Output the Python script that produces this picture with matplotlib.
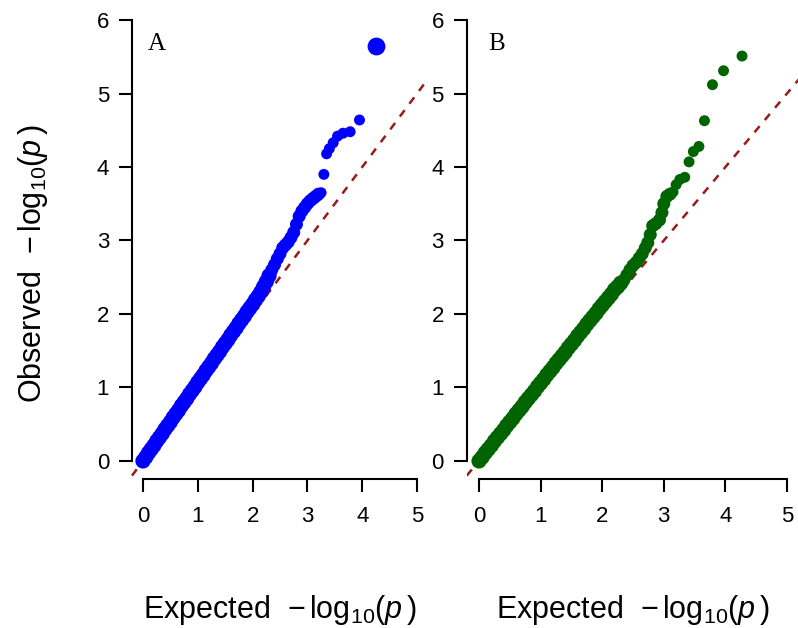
import matplotlib
matplotlib.use('Agg')
import matplotlib.pyplot as plt

plt.rcParams['font.family'] = ['Liberation Sans', 'DejaVu Sans']
plt.rcParams['mathtext.fontset'] = 'custom'
plt.rcParams['mathtext.rm'] = 'Liberation Sans'
plt.rcParams['mathtext.it'] = 'Liberation Sans:italic'

# ---- panel A (blue) : expected vs observed -log10(p)
expA = [0.00, 0.05, 0.10, 0.15, 0.20, 0.25, 0.30, 0.35, 0.40, 0.45,
        0.50, 0.55, 0.60, 0.65, 0.70, 0.75, 0.80, 0.85, 0.90, 0.95,
        1.00, 1.05, 1.10, 1.15, 1.20, 1.25, 1.30, 1.35, 1.40, 1.45,
        1.50, 1.55, 1.60, 1.65, 1.70, 1.75, 1.80, 1.85, 1.90, 1.95,
        2.00, 2.05, 2.10, 2.15, 2.20, 2.25, 2.30, 2.35, 2.40, 2.45,
        2.50, 2.55, 2.60, 2.65, 2.70, 2.75, 2.80, 2.85, 2.90, 2.95,
        3.00, 3.05, 3.10, 3.15, 3.20, 3.25, 3.30, 3.35, 3.40, 3.47,
        3.55, 3.65, 3.78, 3.95]
obsA = [0.00, 0.05, 0.11, 0.16, 0.21, 0.27, 0.32, 0.37, 0.43, 0.48,
        0.53, 0.59, 0.64, 0.69, 0.75, 0.80, 0.85, 0.91, 0.96, 1.01,
        1.07, 1.12, 1.17, 1.23, 1.28, 1.33, 1.39, 1.44, 1.49, 1.55,
        1.60, 1.65, 1.71, 1.76, 1.81, 1.87, 1.92, 1.97, 2.03, 2.08,
        2.13, 2.19, 2.24, 2.30, 2.37, 2.44, 2.52, 2.60, 2.67, 2.75,
        2.82, 2.90, 2.94, 2.98, 3.04, 3.11, 3.22, 3.33, 3.40, 3.45,
        3.50, 3.54, 3.57, 3.60, 3.63, 3.65, 3.90, 4.18, 4.25, 4.33,
        4.42, 4.46, 4.48, 4.64]
topA_exp = [4.25]
topA_obs = [5.65]

# ---- panel B (green)
expB = [0.00, 0.05, 0.10, 0.15, 0.20, 0.25, 0.30, 0.35, 0.40, 0.45,
        0.50, 0.55, 0.60, 0.65, 0.70, 0.75, 0.80, 0.85, 0.90, 0.95,
        1.00, 1.05, 1.10, 1.15, 1.20, 1.25, 1.30, 1.35, 1.40, 1.45,
        1.50, 1.55, 1.60, 1.65, 1.70, 1.75, 1.80, 1.85, 1.90, 1.95,
        2.00, 2.05, 2.10, 2.15, 2.20, 2.25, 2.30, 2.35, 2.40, 2.45,
        2.50, 2.55, 2.60, 2.65, 2.70, 2.74, 2.78, 2.82, 2.87, 2.93,
        2.97, 3.00, 3.05, 3.10, 3.15, 3.20, 3.26, 3.34, 3.41, 3.48,
        3.57, 3.66, 3.79, 3.97, 4.27]
obsB = [0.00, 0.05, 0.11, 0.16, 0.21, 0.27, 0.32, 0.37, 0.42, 0.48,
        0.53, 0.58, 0.64, 0.69, 0.74, 0.80, 0.85, 0.90, 0.95, 1.01,
        1.06, 1.11, 1.17, 1.22, 1.27, 1.33, 1.38, 1.43, 1.48, 1.54,
        1.59, 1.64, 1.70, 1.75, 1.80, 1.86, 1.91, 1.96, 2.01, 2.07,
        2.12, 2.17, 2.22, 2.27, 2.33, 2.37, 2.42, 2.46, 2.53, 2.60,
        2.66, 2.70, 2.76, 2.82, 2.90, 2.97, 3.08, 3.20, 3.23, 3.28,
        3.38, 3.50, 3.60, 3.63, 3.66, 3.76, 3.83, 3.86, 4.07, 4.21,
        4.28, 4.63, 5.12, 5.31, 5.51]

xticks = [0, 1, 2, 3, 4, 5]
yticks = [0, 1, 2, 3, 4, 5, 6]

W, H = 798, 628
fig = plt.figure(figsize=(W / 100, H / 100), dpi=100)

# axes boxes in pixels: left, right, top, bottom
boxA = (132, 428, 2.4, 478.6)
boxB = (466.7, 799.3, 2.4, 478.6)


def make_ax(box):
    l, r, t, b = box
    ax = fig.add_axes([l / W, 1 - b / H, (r - l) / W, (b - t) / H])
    ax.set_xlim(-0.2, 5.2)
    ax.set_ylim(-0.24, 6.24)
    ax.spines['top'].set_visible(False)
    ax.spines['right'].set_visible(False)
    ax.spines['left'].set_bounds(0, 6)
    ax.spines['bottom'].set_bounds(0, 5)
    for s in ('left', 'bottom'):
        ax.spines[s].set_linewidth(1.5)
    ax.set_xticks(xticks)
    ax.set_yticks(yticks)
    ax.tick_params(axis='both', direction='out', length=9.5, width=1.5,
                   labelsize=16)
    ax.tick_params(axis='y', pad=7)
    ax.tick_params(axis='x', pad=10)
    ax.patch.set_visible(False)
    return ax


def sizes(xs, cut1, cut2):
    # the dense part is thousands of overlapping points -> thicker band
    out = []
    for x in xs:
        if x <= cut1:
            out.append(120)
        elif x <= cut2:
            out.append(88)
        else:
            out.append(62)
    return out


line_col = '#991b1b'
dash = (0, (3.2, 3.2))

axA = make_ax(boxA)
axA.plot([-0.2, 5.2], [-0.2, 5.2], color=line_col, lw=1.8,
         linestyle=dash, zorder=1, clip_on=False)
axA.scatter(expA, obsA, s=sizes(expA, 2.3, 3.22), color='#0000ff',
            linewidths=0, zorder=2)
axA.scatter(topA_exp, topA_obs, s=165, color='#0000ff', linewidths=0, zorder=2)

axB = make_ax(boxB)
axB.plot([-0.2, 5.2], [-0.2, 5.2], color=line_col, lw=1.8,
         linestyle=dash, zorder=1)
axB.scatter(expB, obsB, s=sizes(expB, 2.3, 3.1), color='#006400',
            linewidths=0, zorder=2)

# panel letters
fig.text(148 / W, 1 - 50 / H, 'A', family='Liberation Serif', fontsize=18,
         va='baseline', ha='left')
fig.text(488 / W, 1 - 50 / H, 'B', family='Liberation Serif', fontsize=18,
         va='baseline', ha='left')

xlab = r'Expected  $-\,\mathrm{log}_{10}(\mathit{p}\,)$'
fig.text(280 / W, 1 - 618 / H, xlab, fontsize=22, ha='center', va='baseline')
fig.text(633 / W, 1 - 618 / H, xlab, fontsize=22, ha='center', va='baseline')
fig.text(41 / W, 1 - 264 / H, r'Observed  $-\,\mathrm{log}_{10}(\mathit{p}\,)$',
         fontsize=22, rotation=90, ha='center', va='baseline',
         rotation_mode='anchor')

fig.savefig('out.png', dpi=100)
